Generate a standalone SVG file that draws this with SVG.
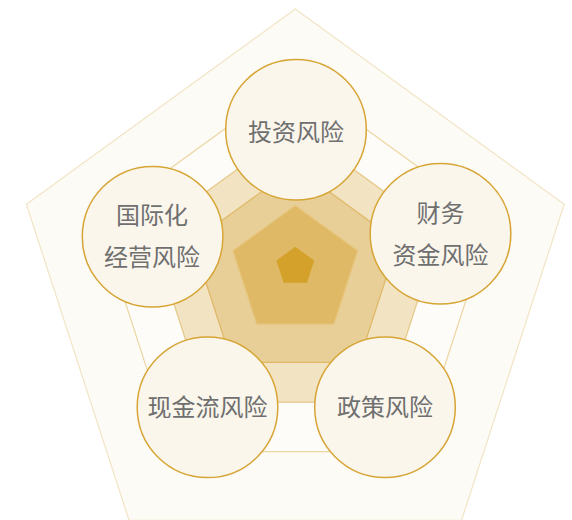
<svg xmlns="http://www.w3.org/2000/svg" width="572" height="520" viewBox="0 0 572 520">
  <style>
    .node circle { fill: #faf6ec; stroke: #d7a535; stroke-width: 1.5; }
    .node text { font-family: "Noto Sans CJK SC", "Noto Sans", sans-serif; font-size: 24px; fill: #6f6f6f; text-anchor: middle; }
    .p1 { fill: #fdfbf6; stroke: #f2e5c6; stroke-width: 1.2; }
    .p2 { fill: #fefcf8; stroke: #ecd5a2; stroke-width: 1.2; }
    .p3 { fill: #f2e3c2; stroke: #e6c787; stroke-width: 1.2; }
    .p4 { fill: #e8cf98; stroke: #dfb866; stroke-width: 1.2; }
    .p5 { fill: #e0b966; stroke: #e6c57d; stroke-width: 1.2; }
    .p6 { fill: #d4a12b; }
  </style>
  <rect width="572" height="520" fill="#ffffff"/>
  <g id="rings">
    <polygon class="p1" points="295.3,9 564.2,204.3 461.5,520.4 129.1,520.4 26.4,204.3"/>
    <polygon class="p2" points="295.3,77.7 491.9,220.5 416.8,451.6 173.8,451.6 98.7,220.5"/>
    <polygon class="p3" points="295.3,127.1 440,232.2 384.7,402.2 205.9,402.2 150.6,232.2"/>
    <polygon class="p4" points="295.3,167.1 397.9,241.7 358.7,362.3 231.9,362.3 192.7,241.7"/>
    <polygon class="p5" points="295.3,205.4 357.7,250.7 333.9,324.1 256.7,324.1 232.9,250.7"/>
    <polygon class="p6" points="295.3,246.7 314.2,260.5 307,282.7 283.6,282.7 276.4,260.5"/>
  </g>
  <g id="investment-risk" class="node">
    <circle cx="296" cy="129.7" r="70.3"/>
    <text x="296" y="140.5">投资风险</text>
  </g>
  <g id="international-risk" class="node">
    <circle cx="152.6" cy="236.7" r="70.3"/>
    <text x="152" y="224">国际化</text>
    <text x="152" y="265.8">经营风险</text>
  </g>
  <g id="financial-risk" class="node">
    <circle cx="440.5" cy="233.7" r="70.3"/>
    <text x="440.5" y="222">财务</text>
    <text x="440.5" y="263.8">资金风险</text>
  </g>
  <g id="cashflow-risk" class="node">
    <circle cx="207.5" cy="407.3" r="70.3"/>
    <text x="207.5" y="415.8">现金流风险</text>
  </g>
  <g id="policy-risk" class="node">
    <circle cx="385" cy="407.3" r="70.3"/>
    <text x="385" y="415.8">政策风险</text>
  </g>
</svg>
